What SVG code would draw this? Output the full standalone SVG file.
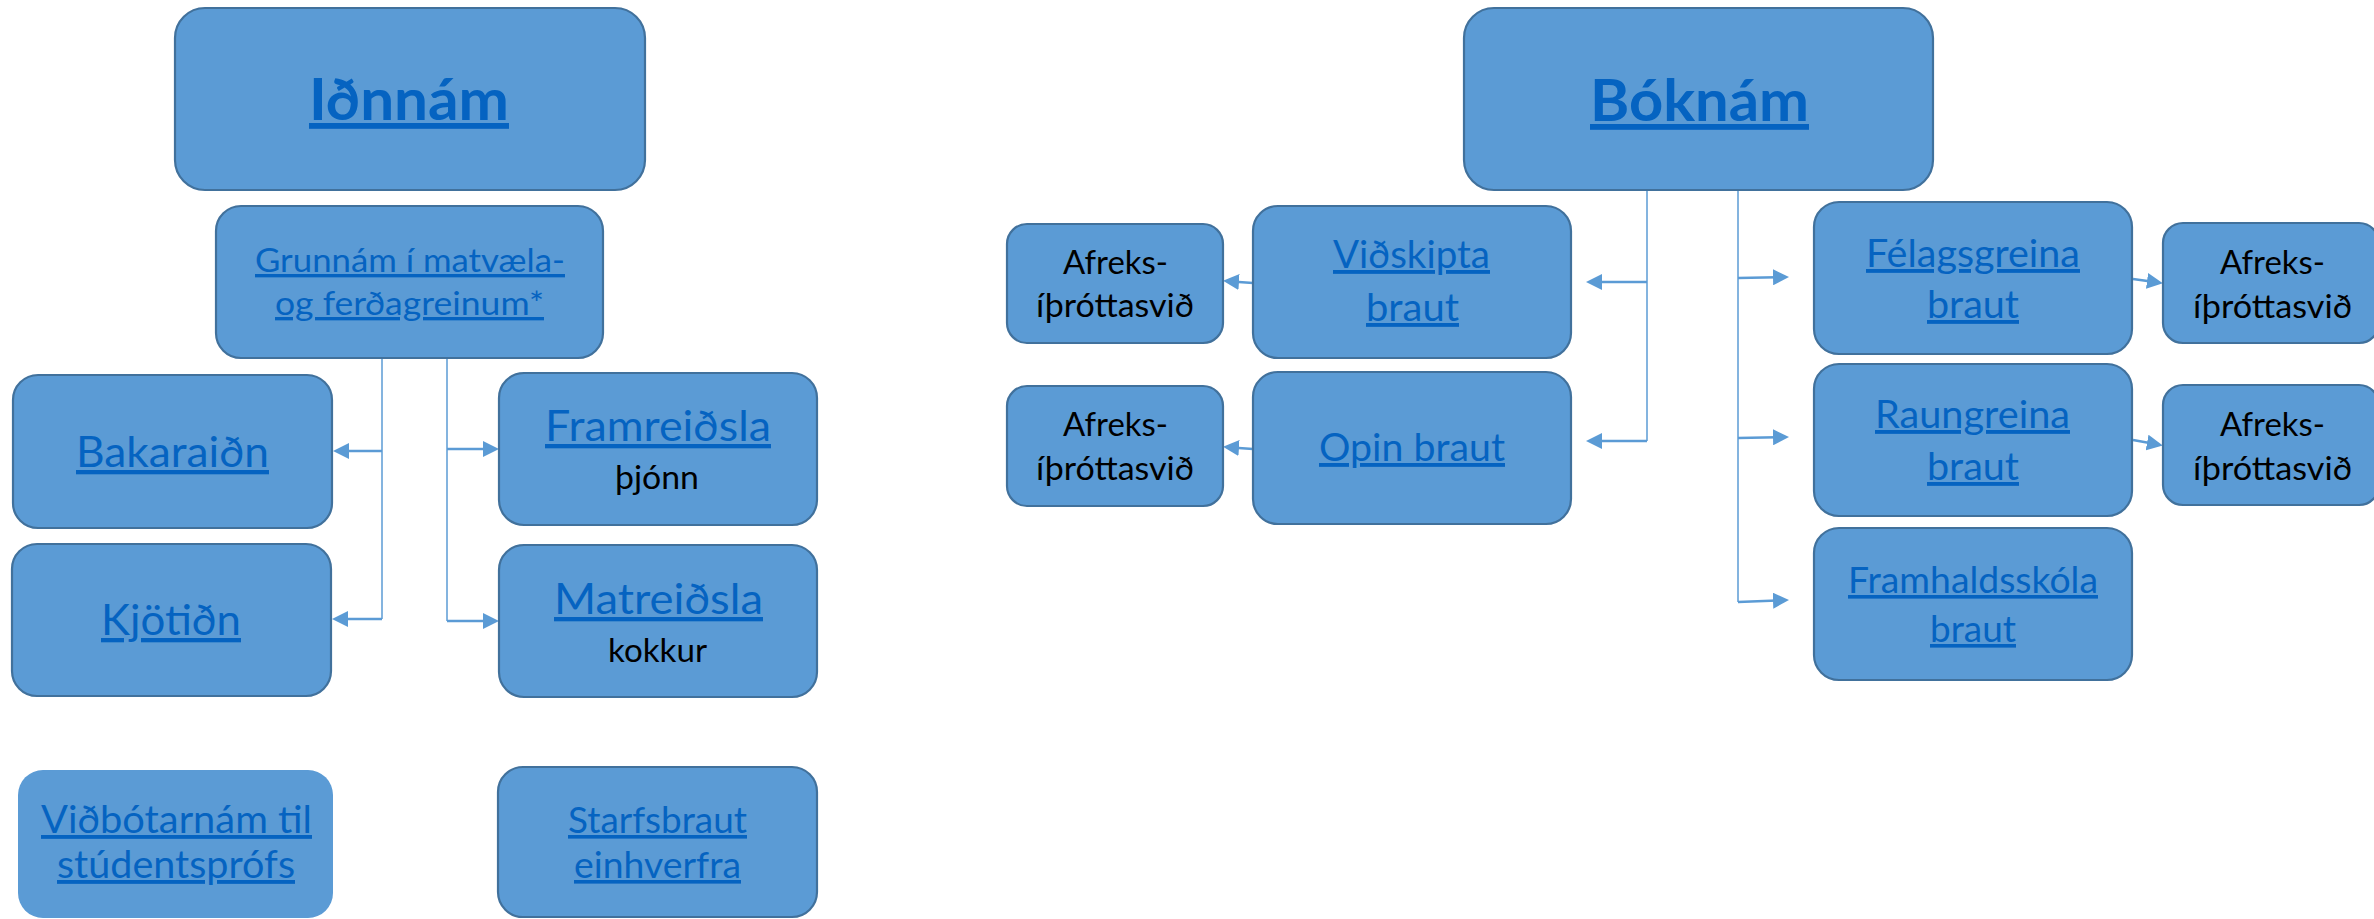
<svg xmlns="http://www.w3.org/2000/svg" width="2374" height="919" viewBox="0 0 2374 919">
<style>
.box{fill:#5B9BD5;stroke:#41719C;stroke-width:2.2}
.box2{fill:#5B9BD5;stroke:none}
text{font-family:Lato,"Liberation Sans",sans-serif;text-anchor:middle}
.lnk{fill:#0563C1;text-decoration:underline}
.ttl{font-weight:bold;font-size:58px}
.blk{fill:#000000}
.f48{font-size:43px}
.f43{font-size:38.5px}
.f40{font-size:36px}
.f37{font-size:33.5px}
.f36{font-size:32.5px}
.trunk{fill:none;stroke:#5B9BD5;stroke-width:1.5}
.br{fill:none;stroke:#5B9BD5;stroke-width:2.4;marker-end:url(#ah)}
</style>
<defs>
<marker id="ah" markerUnits="userSpaceOnUse" markerWidth="16" markerHeight="16" refX="4" refY="8" orient="auto">
<path d="M0,0 L16,8 L0,16 z" fill="#5B9BD5"/>
</marker>
</defs>

<g id="connectors">
<path class="trunk" d="M382,358 V619"/>
<path class="br" d="M382,451 H345"/>
<path class="br" d="M382,619 H344"/>
<path class="trunk" d="M447,358 V621"/>
<path class="br" d="M447,449 H487"/>
<path class="br" d="M447,621 H487"/>
<path class="trunk" d="M1647,190 V441"/>
<path class="br" d="M1647,282 H1598"/>
<path class="br" d="M1647,441 H1598"/>
<path class="trunk" d="M1738,190 V602"/>
<path class="br" d="M1738,278 L1777,277.2"/>
<path class="br" d="M1738,438 L1777,437.2"/>
<path class="br" d="M1738,602 L1777,600.5"/>
<path class="br" d="M1253,283 L1235,281.7"/>
<path class="br" d="M1253,449 L1235,447.7"/>
<path class="br" d="M2133,279 L2151,281.5"/>
<path class="br" d="M2133,440 L2151,443.3"/>
</g>

<g id="n-idnnam">
<rect class="box" x="175" y="8" width="470" height="182" rx="30"/>
<text class="lnk ttl" x="409" y="120" textLength="200" lengthAdjust="spacingAndGlyphs">Iðnnám</text>
</g>
<g id="n-grunnam">
<rect class="box" x="216" y="206" width="387" height="152" rx="25"/>
<text class="lnk f37" x="410" y="272" textLength="310" lengthAdjust="spacingAndGlyphs">Grunnám í matvæla-</text>
<text class="lnk f37" x="409.5" y="315" textLength="269" lengthAdjust="spacingAndGlyphs">og ferðagreinum*</text>
</g>
<g id="n-bakaraidn">
<rect class="box" x="13" y="375" width="319" height="153" rx="25"/>
<text class="lnk f48" x="172.5" y="467" textLength="193" lengthAdjust="spacingAndGlyphs">Bakaraiðn</text>
</g>
<g id="n-kjotidn">
<rect class="box" x="12" y="544" width="319" height="152" rx="25"/>
<text class="lnk f48" x="171" y="635" textLength="140" lengthAdjust="spacingAndGlyphs">Kjötiðn</text>
</g>
<g id="n-framreidsla">
<rect class="box" x="499" y="373" width="318" height="152" rx="25"/>
<text class="lnk f48" x="658" y="441" textLength="226" lengthAdjust="spacingAndGlyphs">Framreiðsla</text>
<text class="blk f36" x="657" y="489" textLength="84" lengthAdjust="spacingAndGlyphs">þjónn</text>
</g>
<g id="n-matreidsla">
<rect class="box" x="499" y="545" width="318" height="152" rx="25"/>
<text class="lnk f48" x="658.5" y="614" textLength="209" lengthAdjust="spacingAndGlyphs">Matreiðsla</text>
<text class="blk f36" x="657.5" y="662" textLength="99" lengthAdjust="spacingAndGlyphs">kokkur</text>
</g>
<g id="n-vidbotarnam">
<rect class="box2" x="18" y="770" width="315" height="148" rx="25"/>
<text class="lnk f43" x="176.5" y="833" textLength="271" lengthAdjust="spacingAndGlyphs">Viðbótarnám til</text>
<text class="lnk f43" x="176" y="878" textLength="238" lengthAdjust="spacingAndGlyphs">stúdentsprófs</text>
</g>
<g id="n-starfsbraut">
<rect class="box" x="498" y="767" width="319" height="150" rx="25"/>
<text class="lnk f40" x="657.5" y="833" textLength="179" lengthAdjust="spacingAndGlyphs">Starfsbraut</text>
<text class="lnk f40" x="657.5" y="878" textLength="167" lengthAdjust="spacingAndGlyphs">einhverfra</text>
</g>

<g id="n-boknam">
<rect class="box" x="1464" y="8" width="469" height="182" rx="30"/>
<text class="lnk ttl" x="1699.5" y="121" textLength="219" lengthAdjust="spacingAndGlyphs">Bóknám</text>
</g>
<g id="n-vidskipta">
<rect class="box" x="1253" y="206" width="318" height="152" rx="25"/>
<text class="lnk f43" x="1411.5" y="268" textLength="157" lengthAdjust="spacingAndGlyphs">Viðskipta</text>
<text class="lnk f43" x="1412.5" y="321" textLength="93" lengthAdjust="spacingAndGlyphs">braut</text>
</g>
<g id="n-opin">
<rect class="box" x="1253" y="372" width="318" height="152" rx="25"/>
<text class="lnk f43" x="1412" y="461" textLength="186" lengthAdjust="spacingAndGlyphs">Opin braut</text>
</g>
<g id="n-afreks-l1">
<rect class="box" x="1007" y="224" width="216" height="119" rx="20"/>
<text class="blk f36" x="1115.5" y="274" textLength="105" lengthAdjust="spacingAndGlyphs">Afreks-</text>
<text class="blk f36" x="1115" y="317" textLength="158" lengthAdjust="spacingAndGlyphs">íþróttasvið</text>
</g>
<g id="n-afreks-l2">
<rect class="box" x="1007" y="386" width="216" height="120" rx="20"/>
<text class="blk f36" x="1115.5" y="436" textLength="105" lengthAdjust="spacingAndGlyphs">Afreks-</text>
<text class="blk f36" x="1115" y="480" textLength="158" lengthAdjust="spacingAndGlyphs">íþróttasvið</text>
</g>
<g id="n-felagsgreina">
<rect class="box" x="1814" y="202" width="318" height="152" rx="25"/>
<text class="lnk f43" x="1973" y="267" textLength="214" lengthAdjust="spacingAndGlyphs">Félagsgreina</text>
<text class="lnk f43" x="1973" y="318" textLength="92" lengthAdjust="spacingAndGlyphs">braut</text>
</g>
<g id="n-raungreina">
<rect class="box" x="1814" y="364" width="318" height="152" rx="25"/>
<text class="lnk f43" x="1972.5" y="428" textLength="195" lengthAdjust="spacingAndGlyphs">Raungreina</text>
<text class="lnk f43" x="1973" y="480" textLength="92" lengthAdjust="spacingAndGlyphs">braut</text>
</g>
<g id="n-framhaldsskola">
<rect class="box" x="1814" y="528" width="318" height="152" rx="25"/>
<text class="lnk f40" x="1973" y="593" textLength="250" lengthAdjust="spacingAndGlyphs">Framhaldsskóla</text>
<text class="lnk f40" x="1973" y="642" textLength="86" lengthAdjust="spacingAndGlyphs">braut</text>
</g>
<g id="n-afreks-r1">
<rect class="box" x="2163" y="223" width="216" height="120" rx="20"/>
<text class="blk f36" x="2272.5" y="274" textLength="105" lengthAdjust="spacingAndGlyphs">Afreks-</text>
<text class="blk f36" x="2272.5" y="318" textLength="159" lengthAdjust="spacingAndGlyphs">íþróttasvið</text>
</g>
<g id="n-afreks-r2">
<rect class="box" x="2163" y="385" width="216" height="120" rx="20"/>
<text class="blk f36" x="2272.5" y="436" textLength="105" lengthAdjust="spacingAndGlyphs">Afreks-</text>
<text class="blk f36" x="2272.5" y="480" textLength="159" lengthAdjust="spacingAndGlyphs">íþróttasvið</text>
</g>
</svg>
